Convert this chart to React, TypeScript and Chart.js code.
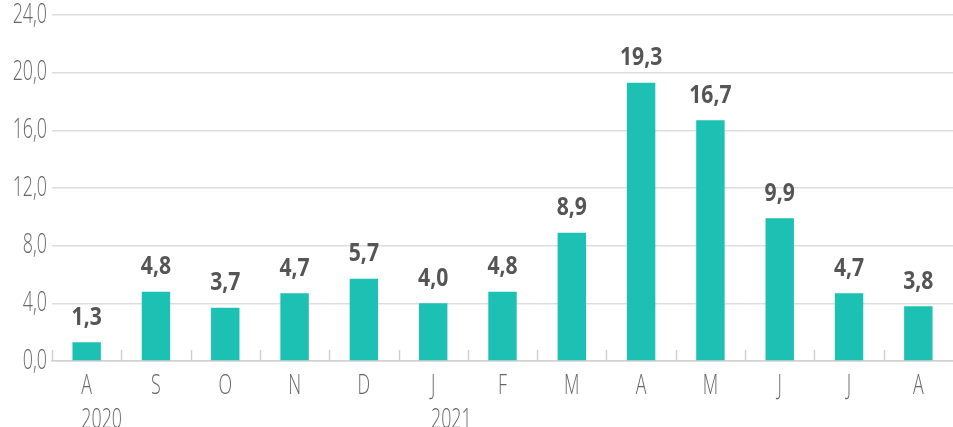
import React, { useEffect, useRef } from "react";
import { Chart, registerables } from "chart.js";

Chart.register(...registerables);

const months = ["A", "S", "O", "N", "D", "J", "F", "M", "A", "M", "J", "J", "A"];
const values = [1.3, 4.8, 3.7, 4.7, 5.7, 4.0, 4.8, 8.9, 19.3, 16.7, 9.9, 4.7, 3.8];
const years = ["2020", "2021"];
const yearIndex = [0, 5];
const yMin = 0;
const yMax = 24;
const yStep = 4;

const FONT = "'Open Sans', 'DejaVu Sans', sans-serif";
const LIGHT = `300 27px ${FONT}`;
const BOLD = `bold 25.5px ${FONT}`;
const LIGHT_SX = 0.66;
const BOLD_SX = 0.83;
const fmt = (v: number) => v.toFixed(1).replace(".", ",");

function squeezed(ctx: any, text: string, x: number, y: number, sx: number) {
  ctx.save();
  ctx.translate(x, y);
  ctx.scale(sx, 1);
  ctx.fillText(text, 0, 0);
  ctx.restore();
}

const extras = {
  id: "extras",
  afterDraw(chart: any) {
    const ctx = chart.ctx;
    const x = chart.scales.x;
    const y = chart.scales.y;
    const area = chart.chartArea;
    ctx.save();
    // upward tick marks at category boundaries
    ctx.strokeStyle = "#d0d0d0";
    ctx.lineWidth = 1.5;
    for (let i = 0; i < months.length; i++) {
      const b = i === 0 ? area.left : (x.getPixelForValue(i - 1) + x.getPixelForValue(i)) / 2;
      ctx.beginPath();
      ctx.moveTo(Math.round(b) + 0.5, area.bottom);
      ctx.lineTo(Math.round(b) + 0.5, area.bottom - 11);
      ctx.stroke();
    }
    // y tick labels
    ctx.fillStyle = "#666666";
    ctx.font = LIGHT;
    ctx.textBaseline = "alphabetic";
    ctx.textAlign = "right";
    y.ticks.forEach((t: any) => {
      squeezed(ctx, fmt(t.value), area.left - 5, y.getPixelForValue(t.value) + 7.5, LIGHT_SX);
    });
    // x tick labels
    ctx.textAlign = "center";
    months.forEach((m, i) => {
      squeezed(ctx, m, x.getPixelForValue(i), area.bottom + 32.5, LIGHT_SX);
    });
    // year labels, left-aligned with month label
    ctx.textAlign = "left";
    years.forEach((t, k) => {
      const idx = yearIndex[k];
      const w = ctx.measureText(months[idx]).width * LIGHT_SX;
      squeezed(ctx, t, x.getPixelForValue(idx) - w / 2, area.bottom + 67, LIGHT_SX);
    });
    // data labels
    const meta = chart.getDatasetMeta(0);
    ctx.fillStyle = "#555555";
    ctx.font = BOLD;
    ctx.textAlign = "center";
    meta.data.forEach((el: any, i: number) => {
      squeezed(ctx, fmt(values[i]), el.x, el.y - 17.5, BOLD_SX);
    });
    ctx.restore();
  },
};

export default function App() {
  const ref = useRef<HTMLCanvasElement | null>(null);
  useEffect(() => {
    document.body.style.margin = "0";
    const chart = new Chart(ref.current as HTMLCanvasElement, {
      type: "bar",
      data: {
        labels: months,
        datasets: [
          {
            data: values,
            backgroundColor: "#1dc1b3",
            borderWidth: 0,
            barPercentage: 0.41,
            categoryPercentage: 1,
          },
        ],
      },
      options: {
        animation: false,
        responsive: false,
        maintainAspectRatio: false,
        layout: { padding: { top: 15, right: 0, bottom: 0, left: 0 } },
        plugins: {
          legend: { display: false },
          tooltip: { enabled: false },
        },
        scales: {
          x: {
            offset: true,
            grid: { display: false, drawTicks: false },
            border: { display: true, color: "#d0d0d0", width: 1.5 },
            ticks: { display: false, autoSkip: false },
            afterFit: (s: any) => {
              s.height = 66;
            },
          },
          y: {
            min: yMin,
            max: yMax,
            grid: { color: "#dddddd", lineWidth: 1.5, drawTicks: false },
            border: { display: false },
            ticks: { display: false, stepSize: yStep },
            afterFit: (s: any) => {
              s.width = 52;
            },
          },
        },
      },
      plugins: [extras],
    });
    return () => chart.destroy();
  }, []);
  return (
    <div style={{ width: 953, height: 427, position: "absolute", left: 0, top: 0 }}>
      <canvas ref={ref} width={953} height={427} style={{ display: "block" }} />
    </div>
  );
}
